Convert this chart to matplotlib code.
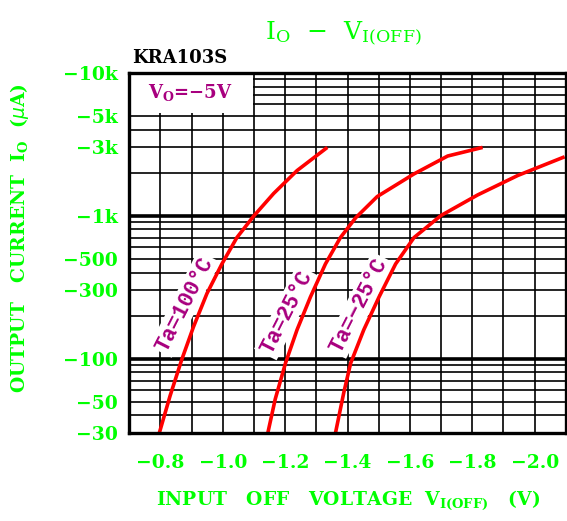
import matplotlib
matplotlib.use('Agg')
import matplotlib.pyplot as plt
from matplotlib.patches import Rectangle
from matplotlib.ticker import FixedLocator, NullFormatter

# curves (V in volts, |Io| in uA)
v_100 = [-0.796, -0.831, -0.868, -0.906, -0.949, -0.997, -1.045, -1.099, -1.163, -1.238, -1.335]
i_100 = [30, 55, 98, 167, 285, 459, 702, 993, 1429, 2066, 3000]

v_25 = [-1.144, -1.168, -1.201, -1.238, -1.281, -1.329, -1.377, -1.426, -1.495, -1.613, -1.721, -1.833]
i_25 = [30, 52, 93, 159, 270, 459, 702, 966, 1359, 1958, 2612, 3000]

v_m25 = [-1.361, -1.388, -1.410, -1.452, -1.501, -1.554, -1.613, -1.699, -1.817, -1.946, -2.096]
i_m25 = [30, 58, 93, 159, 270, 459, 702, 1000, 1395, 1910, 2580]

x_ticks = [-0.8, -1.0, -1.2, -1.4, -1.6, -1.8, -2.0]
x_labels = ['\u22120.8', '\u22121.0', '\u22121.2', '\u22121.4', '\u22121.6', '\u22121.8', '\u22122.0']
x_grid = [-0.8, -0.9, -1.0, -1.1, -1.2, -1.3, -1.4, -1.5, -1.6, -1.7, -1.8, -1.9, -2.0]

y_ticks = [30, 50, 100, 300, 500, 1000, 3000, 5000, 10000]
y_labels = ['\u221230', '\u221250', '\u2212100', '\u2212300', '\u2212500',
            '\u22121k', '\u22123k', '\u22125k', '\u221210k']
y_grid = [k * 10 ** d for d in (1, 2, 3) for k in range(1, 10) if 30 <= k * 10 ** d <= 10000]
y_decades = [100, 1000]

GREEN = '#00ff00'
PURPLE = '#a8007f'
RED = '#ff0000'

plt.rcParams['mathtext.fontset'] = 'custom'
plt.rcParams['mathtext.rm'] = 'DejaVu Serif'
plt.rcParams['mathtext.bf'] = 'DejaVu Serif:bold'

fig = plt.figure(figsize=(5.67, 5.21), dpi=100)
ax = fig.add_axes([0.228, 0.1683, 0.770, 0.6922])

ax.set_yscale('log')
ax.set_xlim(-0.7, -2.1)
ax.set_ylim(30, 10000)

# grid (minor locators carry every grid line, also where a label sits)
ax.set_axisbelow(True)
ax.xaxis.remove_overlapping_locs = False
ax.yaxis.remove_overlapping_locs = False
ax.set_xticks(x_ticks, x_labels)
ax.set_yticks(y_ticks, y_labels)
ax.xaxis.set_minor_locator(FixedLocator(x_grid))
ax.yaxis.set_minor_locator(FixedLocator(y_grid))
ax.xaxis.set_minor_formatter(NullFormatter())
ax.yaxis.set_minor_formatter(NullFormatter())
ax.grid(which='minor', color='black', lw=1.2)
ax.grid(which='major', visible=False)
for d in y_decades:
    ax.axhline(d, color='black', lw=2.6, zorder=0.6)

ax.tick_params(which='both', length=0)
ax.tick_params(axis='x', pad=15)
ax.tick_params(axis='y', pad=8)
for lab in ax.get_xticklabels() + ax.get_yticklabels():
    lab.set_fontfamily('DejaVu Serif')
    lab.set_fontweight('bold')
    lab.set_fontsize(13.5)
    lab.set_color(GREEN)

for s in ax.spines.values():
    s.set_linewidth(2.4)
    s.set_color('black')
    s.set_zorder(5)

# white box for the condition note
ax.add_patch(Rectangle((0, 0.888), 0.283, 0.112, transform=ax.transAxes,
                       facecolor='white', edgecolor='none', zorder=1.5))
ax.text(0.14, 0.945, r'$\mathbf{V_O}$=' + '\u22125V',
        transform=ax.transAxes, ha='center', va='center', color=PURPLE,
        fontsize=13, fontweight='bold', family='DejaVu Serif', zorder=2)

# curves
for v, i in [(v_100, i_100), (v_25, i_25), (v_m25, i_m25)]:
    ax.plot(v, i, color=RED, lw=2.6, solid_joinstyle='round', solid_capstyle='butt', zorder=4)

labels = [('Ta=100\u00b0C', -0.878, 240), ('Ta=25\u00b0C', -1.205, 210), ('Ta=\u221225\u00b0C', -1.437, 236)]
for txt, x, y in labels:
    ax.text(x, y, txt, rotation=63, rotation_mode='anchor', ha='center', va='center',
            color=PURPLE, fontsize=15.5, fontweight='bold', family=['Liberation Mono', 'DejaVu Sans Mono'],
            bbox=dict(facecolor='white', edgecolor='none', pad=1.5), zorder=3)

# titles
fig.text(0.233, 0.879, 'KRA103S', ha='left', va='baseline', color='black',
         fontsize=13, fontweight='bold', family='DejaVu Serif')
fig.text(0.605, 0.935, r'$\mathrm{I_O}\ \ \mathrm{-}\ \ \mathrm{V_{I(OFF)}}$', ha='center', va='center',
         color=GREEN, fontsize=18)
fig.text(0.614, 0.04, r'INPUT   OFF   VOLTAGE  $\mathbf{V_{I(OFF)}}$   (V)', ha='center', va='center',
         color=GREEN, fontsize=13.5, fontweight='bold', family='DejaVu Serif')
fig.text(0.035, 0.543, r'OUTPUT   CURRENT  $\mathbf{I_O}$  ($\mu$A)', ha='center', va='center',
         rotation=90, color=GREEN, fontsize=13.5, fontweight='bold', family='DejaVu Serif')

fig.savefig('out.png', dpi=100)
